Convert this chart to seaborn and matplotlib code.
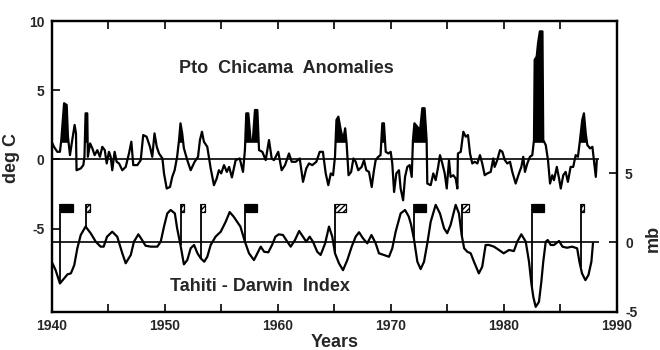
import numpy as np
import pandas as pd
import matplotlib
matplotlib.use("Agg")
import matplotlib.pyplot as plt
from matplotlib.patches import Rectangle
from matplotlib.ticker import MultipleLocator
import seaborn as sns

# Puerto Chicama sea-surface temperature anomalies (deg C)
sst_year = [
    1940.0, 1940.2, 1940.5, 1940.73, 1940.85, 1941.1, 1941.33, 1941.44, 1941.62, 1941.82,
    1942.03, 1942.15, 1942.2, 1942.57, 1942.8, 1942.9, 1943.0, 1943.15, 1943.2, 1943.4,
    1943.6, 1943.8, 1944.04, 1944.27, 1944.48, 1944.7, 1944.87, 1945.07, 1945.22, 1945.36,
    1945.57, 1945.75, 1945.96, 1946.25, 1946.55, 1946.84, 1947.05, 1947.22, 1947.58, 1947.88,
    1948.1, 1948.4, 1948.7, 1948.9, 1949.1, 1949.3, 1949.5, 1949.8, 1949.94, 1950.18,
    1950.47, 1950.67, 1950.88, 1951.1, 1951.27, 1951.4, 1951.55, 1951.7, 1952.0, 1952.3,
    1952.65, 1952.95, 1953.12, 1953.3, 1953.47, 1953.77, 1954.07, 1954.36, 1954.6, 1954.8,
    1955.0, 1955.25, 1955.5, 1955.7, 1955.95, 1956.28, 1956.64, 1956.93, 1957.1, 1957.22,
    1957.4, 1957.6, 1957.8, 1957.99, 1958.2, 1958.35, 1958.64, 1958.94, 1959.23, 1959.47,
    1959.67, 1960.05, 1960.35, 1960.65, 1961.0, 1961.24, 1961.6, 1961.95, 1962.24, 1962.53,
    1962.77, 1963.06, 1963.42, 1963.72, 1964.0, 1964.25, 1964.48, 1964.7, 1964.9, 1965.07,
    1965.2, 1965.37, 1965.58, 1965.8, 1965.97, 1966.1, 1966.27, 1966.5, 1966.7, 1966.9,
    1967.13, 1967.43, 1967.64, 1967.84, 1968.08, 1968.32, 1968.52, 1968.67, 1968.9, 1969.1,
    1969.26, 1969.4, 1969.56, 1969.8, 1970.0, 1970.14, 1970.3, 1970.5, 1970.73, 1970.88,
    1971.1, 1971.27, 1971.47, 1971.68, 1971.86, 1971.97, 1972.1, 1972.35, 1972.6, 1972.8,
    1973.0, 1973.18, 1973.24, 1973.54, 1973.77, 1973.98, 1974.2, 1974.36, 1974.57, 1974.78,
    1974.96, 1975.16, 1975.3, 1975.54, 1975.75, 1975.9, 1975.95, 1976.2, 1976.43, 1976.64,
    1976.84, 1977.02, 1977.22, 1977.43, 1977.67, 1977.9, 1978.1, 1978.32, 1978.55, 1978.85,
    1979.08, 1979.2, 1979.43, 1979.67, 1979.88, 1980.1, 1980.32, 1980.56, 1980.76, 1981.06,
    1981.35, 1981.56, 1981.73, 1981.88, 1982.09, 1982.32, 1982.53, 1982.68, 1982.74, 1982.92,
    1983.04, 1983.2, 1983.43, 1983.5, 1983.72, 1983.92, 1984.1, 1984.3, 1984.45, 1984.7,
    1984.9, 1985.05, 1985.27, 1985.48, 1985.68, 1985.92, 1986.15, 1986.37, 1986.57, 1986.75,
    1986.95, 1987.1, 1987.26, 1987.4, 1987.64, 1987.85, 1988.0, 1988.15, 1988.24,
]
sst_anom = [
    1.28, 0.91, 0.55, 0.55, 1.4, 4.06, 3.93, 1.64, 0.31, 1.4,
    2.49, 1.88, -0.78, -0.65, -0.41, 0.19, 3.33, 3.33, 0.19, 1.16,
    0.8, 0.31, 0.67, 0.19, 0.91, 0.67, -0.29, 0.55, 0.19, -0.78,
    0.55, -0.17, -0.29, -0.78, -0.54, 0.43, 1.28, -0.41, -0.41, -0.05,
    1.76, 1.64, 0.91, 0.19, 1.88, 0.91, 0.43, 0.07, -1.01, -2.1,
    -1.99, -1.26, -0.78, 0.19, 1.4, 2.61, 1.88, 0.8, -0.05, -0.78,
    -0.17, 0.19, 1.4, 2.0, 1.28, 0.91, -0.65, -1.86, -1.38, -0.78,
    -1.01, -0.41, -0.9, -0.54, -1.3, -0.05, 0.07, -0.9, 0.67, 3.33,
    3.33, 1.4, 1.4, 3.57, 3.57, 0.67, 0.55, -0.05, 1.4, 0.07,
    -0.05, 0.55, -0.78, -0.41, 0.43, -0.17, -0.17, 0.07, -1.62, -0.65,
    -0.29, -0.41, -0.17, 0.55, 0.55, -1.01, -1.86, -1.01, -1.14, 0.19,
    2.85, 3.09, 2.12, 1.4, 2.25, 1.16, -1.14, -0.9, 0.07, -0.17,
    -0.78, -0.54, -0.05, -0.78, -0.9, -1.99, -0.78, -0.05, 0.19, 0.31,
    2.61, 2.61, 0.55, 0.43, 0.55, -0.29, -2.35, -1.01, -0.78, -2.1,
    -2.95, -1.26, -0.54, -0.41, -1.26, 1.4, 2.61, 2.36, 2.12, 3.7,
    3.7, 1.4, -1.74, -1.86, -1.01, -1.5, -0.54, 0.31, -0.29, -1.01,
    -2.1, -0.05, -1.26, -1.14, -1.38, -2.1, 0.43, 0.55, 2.0, 1.64,
    1.76, 0.43, -0.29, -0.17, -0.29, 0.31, -0.29, -1.14, -1.01, -0.9,
    0.07, -0.54, -0.05, 0.67, 0.55, -0.05, -0.29, -0.17, -0.9, -1.74,
    -1.01, -0.54, 0.19, -0.9, -0.29, 0.19, 0.31, 1.4, 7.2, 7.43,
    8.4, 9.25, 9.25, 1.4, 1.04, -0.05, -1.74, -1.14, -1.5, -0.54,
    -1.38, -2.1, -1.14, -0.9, -1.62, -0.54, -0.54, 0.31, 0.19, 1.4,
    2.85, 3.33, 1.88, 1.04, 0.8, 0.91, -0.17, -1.26, -0.05,
]

# Tahiti - Darwin pressure index (mb), smoothed
soi_year = [
    1940.0, 1940.35, 1940.73, 1941.1, 1941.4, 1941.7, 1942.0, 1942.27, 1942.57, 1943.0,
    1943.45, 1943.9, 1944.33, 1944.6, 1944.9, 1945.36, 1945.8, 1946.25, 1946.55, 1947.0,
    1947.28, 1947.67, 1948.0, 1948.3, 1948.76, 1949.35, 1949.65, 1949.94, 1950.23, 1950.53,
    1950.9, 1951.1, 1951.4, 1951.7, 1952.0, 1952.3, 1952.6, 1952.9, 1953.2, 1953.5,
    1953.77, 1954.07, 1954.5, 1954.96, 1955.4, 1955.75, 1956.1, 1956.7, 1957.1, 1957.46,
    1957.9, 1958.2, 1958.5, 1958.8, 1959.17, 1959.5, 1959.8, 1960.1, 1960.47, 1960.85,
    1961.15, 1961.53, 1961.9, 1962.24, 1962.53, 1962.83, 1963.12, 1963.5, 1963.8, 1964.2,
    1964.54, 1964.83, 1965.07, 1965.42, 1965.78, 1966.16, 1966.55, 1966.9, 1967.2, 1967.55,
    1967.93, 1968.3, 1968.67, 1968.96, 1969.4, 1969.85, 1970.14, 1970.44, 1970.88, 1971.27,
    1971.6, 1971.8, 1972.05, 1972.36, 1972.65, 1972.95, 1973.24, 1973.54, 1973.98, 1974.36,
    1974.72, 1975.0, 1975.3, 1975.75, 1976.04, 1976.28, 1976.5, 1976.78, 1977.08, 1977.37,
    1977.8, 1978.1, 1978.4, 1978.7, 1979.14, 1979.58, 1980.0, 1980.47, 1980.9, 1981.2,
    1981.56, 1981.95, 1982.24, 1982.45, 1982.62, 1982.83, 1983.12, 1983.33, 1983.5, 1983.72,
    1983.9, 1984.16, 1984.45, 1984.9, 1985.2, 1985.6, 1986.05, 1986.5, 1986.7, 1986.93,
    1987.23, 1987.5, 1987.76, 1987.9,
]
soi_mb = [
    -1.39, -2.0, -2.96, -2.6, -2.3, -2.23, -1.63, -0.42, 0.54, 1.15,
    0.67, 0.06, -0.3, -0.3, 0.42, 0.78, 0.42, -0.78, -1.5, -0.9,
    0.06, 0.59, 0.18, -0.23, -0.3, -0.3, 0.06, 1.15, 2.1, 2.35,
    2.1, 1.03, -0.18, -1.58, -1.27, -0.42, -0.18, -0.78, -1.15, -1.39,
    -1.03, -0.18, 0.42, 0.78, 1.5, 2.2, 1.87, 1.15, 0.06, -0.78,
    -1.27, -0.78, -0.3, -0.67, -0.71, -0.18, 0.42, 0.59, 0.54, 0.06,
    -0.3, 0.18, 0.83, 0.42, 0.06, 0.42, 0.06, -0.67, -0.9, -0.06,
    1.15, 0.42, -0.78, -1.5, -2.0, -1.27, -0.3, 0.42, 0.74, 0.3,
    -0.06, 0.54, -0.06, -0.78, -0.9, -1.03, -0.42, 0.78, 2.1, 2.35,
    1.87, 1.3, 0.3, -1.39, -1.92, -1.39, -0.06, 1.5, 2.72, 2.1,
    1.03, 0.67, 1.27, 2.72, 2.1, 0.54, -0.42, -0.67, -0.78, -1.39,
    -2.23, -1.75, -0.18, -0.18, -0.3, -0.54, -0.78, -0.54, -0.62, 0.06,
    0.59, 0.06, -1.39, -2.96, -3.93, -4.65, -4.29, -2.84, -1.39, 0.06,
    0.18, -0.18, -0.18, 0.11, -0.3, -0.38, -0.3, -0.42, -1.39, -2.23,
    -2.72, -2.35, -1.39, -0.06,
]

# warm episodes in which the monthly SST trace reads as a solid band
warm_start = [1940.85, 1942.9, 1951.27, 1957.1, 1965.07, 1969.1, 1971.97, 1982.68, 1986.75]
warm_end = [1941.44, 1943.2, 1951.55, 1958.35, 1966.1, 1969.56, 1973.18, 1983.5, 1987.26]

# El Nino events: onset year and strength class
event_year = [1940.75, 1943.0, 1951.4, 1953.2, 1957.1, 1965.07, 1972.05, 1976.3, 1982.5, 1986.8]
event_class = ["S", "W", "W", "W", "S", "M+", "S", "M", "S", "W"]

x_ticks = [1940, 1950, 1960, 1970, 1980, 1990]
left_ticks = [-5, 0, 5, 10]
right_ticks = [-5, 0, 5]

sns.set_theme(style="ticks")
plt.rcParams["font.family"] = ["Liberation Sans", "DejaVu Sans"]
plt.rcParams["font.weight"] = "bold"
plt.rcParams["axes.unicode_minus"] = False

fig = plt.figure(figsize=(6.6, 3.5), dpi=100)
ax = fig.add_axes([0.0783, 0.1094, 0.8561, 0.8306])
ax2 = ax.twinx()

sst = pd.DataFrame({"year": sst_year, "anom": sst_anom})
soi = pd.DataFrame({"year": soi_year, "mb": soi_mb})

# upper panel: SST anomalies
sns.lineplot(data=sst, x="year", y="anom", ax=ax, color="black", lw=1.6,
             estimator=None, sort=False)
yr = np.asarray(sst_year)
an = np.asarray(sst_anom)
in_warm = np.zeros_like(yr, dtype=bool)
for s, e in zip(warm_start, warm_end):
    in_warm |= (yr >= s) & (yr <= e)
floor = 1.2
ax.fill_between(yr, floor, an, where=in_warm & (an > floor), interpolate=True,
                color="black", lw=0)
line_end = sst_year[-1] + 0.2
ax.hlines(0, sst_year[0], line_end, color="black", lw=1.2)

# lower panel: pressure index on its own scale
sns.lineplot(data=soi, x="year", y="mb", ax=ax2, color="black", lw=1.6,
             estimator=None, sort=False)
ax2.hlines(0, soi_year[0], line_end, color="black", lw=1.2)

# event flags
flag_top, flag_h = 2.8, 0.62
flag_style = {
    "S": dict(width=1.1, facecolor="black", hatch=None),
    "M+": dict(width=1.0, facecolor="white", hatch="//////"),
    "M": dict(width=0.65, facecolor="white", hatch="//////"),
    "W": dict(width=0.35, facecolor="white", hatch="//////"),
}
for ey, ec in zip(event_year, event_class):
    st = flag_style[ec]
    base = np.interp(ey, soi_year, soi_mb)
    ax2.vlines(ey, base, flag_top, color="black", lw=1.3)
    ax2.add_patch(Rectangle((ey, flag_top - flag_h), st["width"], flag_h,
                            facecolor=st["facecolor"], edgecolor="black",
                            hatch=st["hatch"], lw=0.9))

# axes, ticks and labels
ax.set_xlim(1940, 1990)
ax.set_ylim(-11, 10)
ax2.set_ylim(-5, 16)
ax.set_xticks(x_ticks)
ax.xaxis.set_minor_locator(MultipleLocator(5))
ax.set_yticks(left_ticks)
ax2.set_yticks(right_ticks)

ax.tick_params(axis="x", which="both", direction="in", top=True, bottom=True,
               length=6, width=1.4, labelsize=10, pad=5)
ax.tick_params(axis="y", which="both", direction="in", left=True, right=False,
               length=6, width=1.4, labelsize=10, pad=5)
ax2.tick_params(axis="y", direction="in", length=6, width=1.4, labelsize=10, pad=6)

for a in (ax, ax2):
    for sp in a.spines.values():
        sp.set_linewidth(1.6)
        sp.set_color("black")

ax.set_xlabel("Years", fontsize=13, fontweight="bold")
ax.set_ylabel("deg C", fontsize=13, fontweight="bold")
ax2.set_ylabel("mb", fontsize=13, fontweight="bold")
ax.xaxis.set_label_coords(0.5, -0.078)
ax.yaxis.set_label_coords(-0.056, 0.53)
ax2.yaxis.set_label_coords(1.049, 0.2526)

ax.text(1960.78, 6.25, "Pto  Chicama  Anomalies", ha="center", va="baseline",
        fontsize=13, fontweight="bold")
ax2.text(1958.43, -3.5, "Tahiti - Darwin  Index", ha="center", va="baseline",
         fontsize=13, fontweight="bold")

fig.savefig("out.png", dpi=100)
